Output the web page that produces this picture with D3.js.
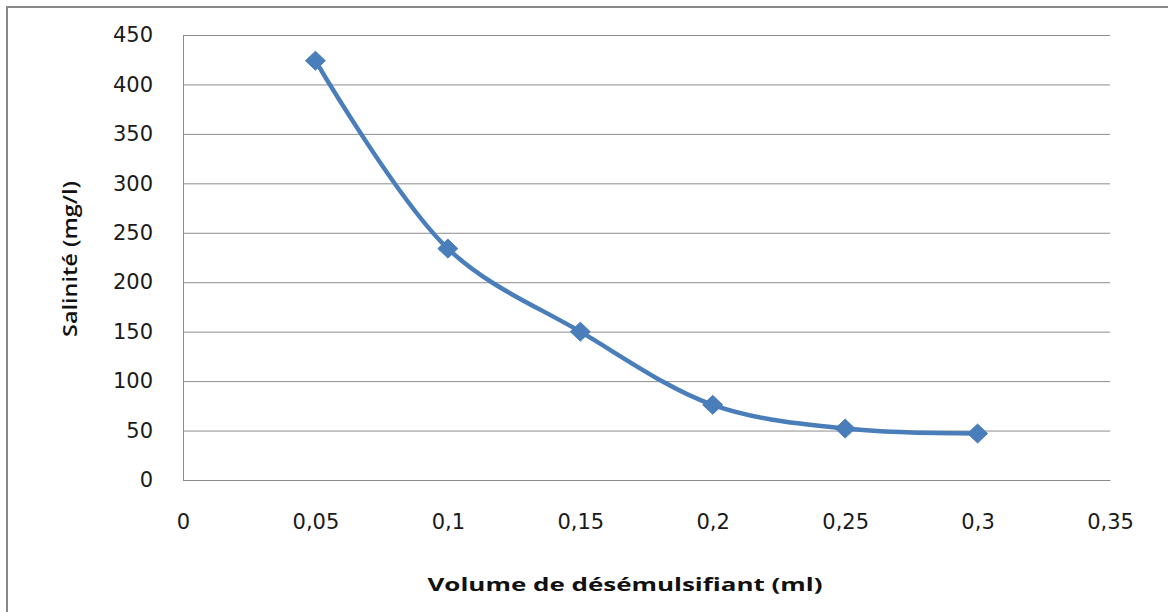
<!DOCTYPE html>
<html>
<head>
<meta charset="utf-8">
<script src="https://cdn.jsdelivr.net/npm/d3@7"></script>
<style>
  html, body { margin: 0; padding: 0; background: #fff; }
  svg { display: block; }
</style>
</head>
<body>
<svg id="chart" width="1168" height="612"></svg>
<script>
const volumes = [0.05, 0.1, 0.15, 0.2, 0.25, 0.3];
const salinity = [424, 234, 150, 76, 52, 47];
const xTicks = [0, 0.05, 0.1, 0.15, 0.2, 0.25, 0.3, 0.35];
const xTickLabels = ["0", "0,05", "0,1", "0,15", "0,2", "0,25", "0,3", "0,35"];
const yTicks = [0, 50, 100, 150, 200, 250, 300, 350, 400, 450];
const xTitle = "Volume de désémulsifiant (ml)";
const yTitle = "Salinité (mg/l)";

const svg = d3.select("#chart");
const font = "'Open Sans', 'Liberation Sans', sans-serif";
const tickFont = "'DejaVu Sans', Verdana, sans-serif";

// outer frame
svg.append("rect")
  .attr("x", 7).attr("y", 7).attr("width", 1170).attr("height", 620)
  .attr("fill", "#fff").attr("stroke", "#888").attr("stroke-width", 2);

const x = d3.scaleLinear().domain([0, 0.35]).range([183, 1110]);
const y = d3.scaleLinear().domain([0, 450]).range([480, 35]);

// gridlines
svg.append("g")
  .attr("transform", "translate(183,0)")
  .call(d3.axisLeft(y).tickValues(yTicks).tickSize(-(1110 - 183)).tickFormat(""))
  .call(g => g.select(".domain").remove())
  .call(g => g.selectAll(".tick line").attr("stroke", "#8c8c8c").attr("stroke-width", 1));

// left axis line + labels
svg.append("g")
  .attr("transform", "translate(183,0)")
  .call(d3.axisLeft(y).tickValues(yTicks).tickSize(0).tickPadding(30))
  .call(g => g.select(".domain").attr("stroke", "#8c8c8c"))
  .call(g => g.selectAll(".tick text")
    .attr("font-family", tickFont).attr("font-size", 21).attr("fill", "#1a1a1a"));

// x axis
svg.append("g")
  .attr("transform", "translate(0,480)")
  .call(d3.axisBottom(x).tickValues(xTicks).tickSize(0).tickPadding(0)
    .tickFormat((d, i) => xTickLabels[i]))
  .call(g => g.select(".domain").attr("stroke", "#8c8c8c"))
  .call(g => g.selectAll(".tick text")
    .attr("y", 49).attr("dy", null)
    .attr("font-family", tickFont).attr("font-size", 21).attr("fill", "#1a1a1a"));

const data = volumes.map((v, i) => ({ v, s: salinity[i] }));

// smoothed line
const line = d3.line()
  .x(d => x(d.v)).y(d => y(d.s))
  .curve(d3.curveCatmullRom.alpha(0.5));

svg.append("path")
  .datum(data)
  .attr("d", line)
  .attr("fill", "none")
  .attr("stroke", "#4a7ebb")
  .attr("stroke-width", 4.5)
  .attr("stroke-linejoin", "round");

// diamond markers
svg.append("g").selectAll("path")
  .data(data)
  .join("path")
  .attr("transform", d => `translate(${x(d.v)},${y(d.s)})`)
  .attr("d", "M0,-9.5L10,0L0,9.5L-10,0Z")
  .attr("fill", "#4a7ebb")
  .attr("stroke", "#4a7ebb")
  .attr("stroke-width", 1);

// axis titles
svg.append("text")
  .attr("x", 625).attr("y", 591)
  .attr("text-anchor", "middle")
  .attr("font-family", font).attr("font-size", 18).attr("font-weight", "bold")
  .attr("fill", "#111")
  .attr("textLength", 395).attr("lengthAdjust", "spacingAndGlyphs")
  .text(xTitle);

svg.append("text")
  .attr("transform", "translate(77,259) rotate(-90)")
  .attr("text-anchor", "middle")
  .attr("font-family", font).attr("font-size", 19).attr("font-weight", 600)
  .attr("fill", "#111")
  .attr("textLength", 156).attr("lengthAdjust", "spacingAndGlyphs")
  .text(yTitle);
</script>
</body>
</html>
